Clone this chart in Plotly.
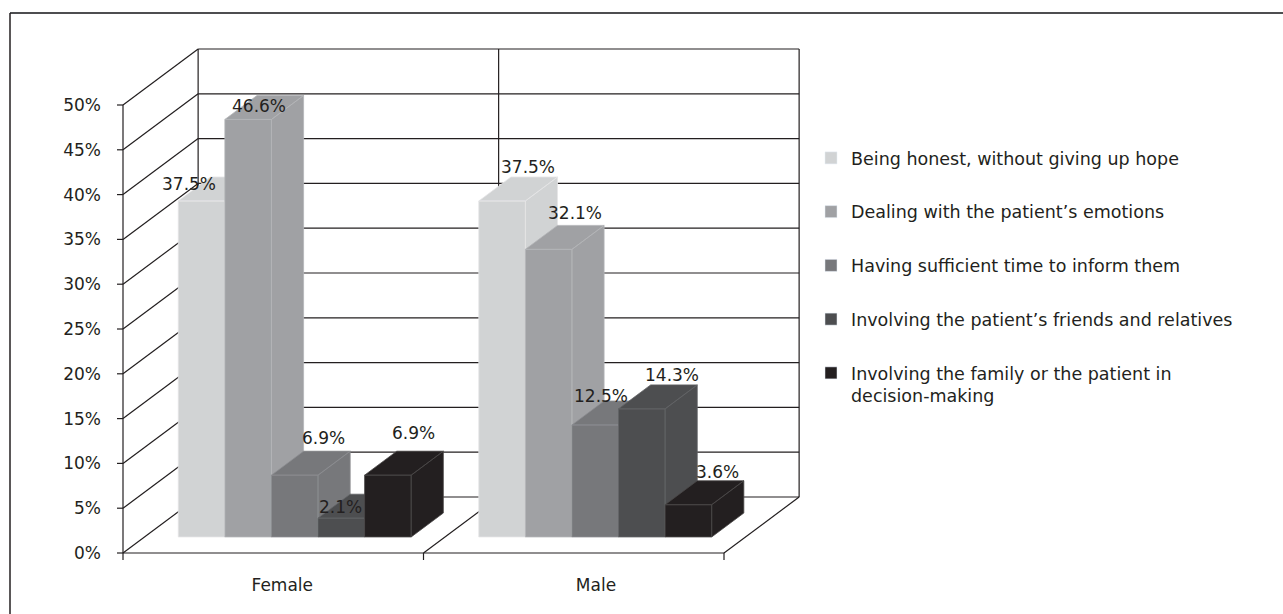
import plotly.graph_objects as go

# ---------------- data ----------------
categories = ["Female", "Male"]
series_names = [
    "Being honest, without giving up hope",
    "Dealing with the patient\u2019s emotions",
    "Having sufficient time to inform them",
    "Involving the patient\u2019s friends and relatives",
    "Involving the family or the patient in<br>decision-making",
]
female_values = [37.5, 46.6, 6.9, 2.1, 6.9]
male_values = [37.5, 32.1, 12.5, 14.3, 3.6]
y_tick_values = [0, 5, 10, 15, 20, 25, 30, 35, 40, 45, 50]
y_tick_labels = [f"{v}%" for v in y_tick_values]

# ---------------- style ----------------
colors = ["#d1d3d4", "#a0a1a4", "#77787b", "#4d4e50", "#231f20"]
edge_colors = ["#e4e5e6", "#b4b5b8", "#8c8d90", "#626366", "#4a4748"]
INK = "#231f20"
FONT = "DejaVu Sans"

W, H = 1283, 614
PX_PER_CAT = 300.5      # pixels per category on the front plane
PX_PER_PCT = 8.96       # pixels per percentage point
FRONT_X_PX = 123        # pixel of the front y axis
ZERO_Y_PX = 553         # pixel of 0 % on the front plane
PLOT_L, PLOT_R, PLOT_T, PLOT_B = 114, 830, 30, 572

DEPTH_X = 0.25          # depth offset (category units)
DEPTH_Y = 6.25          # depth offset (percentage units)
BAR_FRONT, BAR_BACK = 0.286, 0.714
BAR_W = 0.155
GROUP_GAP = (1 - 5 * BAR_W) / 2

x_range = [(PLOT_L - FRONT_X_PX) / PX_PER_CAT, (PLOT_R - FRONT_X_PX) / PX_PER_CAT]
y_range = [(ZERO_Y_PX - PLOT_B) / PX_PER_PCT, (ZERO_Y_PX - PLOT_T) / PX_PER_PCT]

# label nudges (screen px: dx right, dy down) per category / series
label_nudge = [
    [(-39, 17), (-16, 21), (2, -3), (-28, 23), (-1, -8)],
    [(-1, 0), (0, -2), (-21, 5), (3, 0), (2, 1)],
]

fig = go.Figure()

# ---------------- walls / grid (behind bars) ----------------
ny = len(categories)
fx, fy = [], []


def seg(x0, y0, x1, y1):
    fx.extend([x0, x1, None])
    fy.extend([y0, y1, None])


top = y_tick_values[-1]
for v in y_tick_values:
    seg(DEPTH_X, v + DEPTH_Y, ny + DEPTH_X, v + DEPTH_Y)          # back wall grid
    seg(0, v, DEPTH_X, v + DEPTH_Y)                               # side wall grid
    seg(-6 / PX_PER_CAT, v, 0, v)                                 # y ticks
for i in range(ny + 1):
    seg(i + DEPTH_X, DEPTH_Y, i + DEPTH_X, top + DEPTH_Y)         # back verticals
    seg(i, 0, i, -7 / PX_PER_PCT)                                 # x ticks
    if i > 0:
        seg(i, 0, i + DEPTH_X, DEPTH_Y)                           # floor diagonals
seg(0, 0, 0, top)                                                 # front y axis
seg(0, 0, ny, 0)                                                  # front floor edge

fig.add_trace(go.Scatter(x=fx, y=fy, mode="lines", line=dict(color=INK, width=1.2),
                         hoverinfo="skip", showlegend=False))

# ---------------- 3-D bars ----------------
values_by_cat = [female_values, male_values]
annotations = []
for s in range(len(series_names)):
    bx, by = [], []
    for c in range(ny):
        v = values_by_cat[c][s]
        xl = c + GROUP_GAP + s * BAR_W
        xr = xl + BAR_W
        f1x, f1y = BAR_FRONT * DEPTH_X, BAR_FRONT * DEPTH_Y
        f2x, f2y = BAR_BACK * DEPTH_X, BAR_BACK * DEPTH_Y
        # front face
        bx += [xl + f1x, xr + f1x, xr + f1x, xl + f1x, xl + f1x, None]
        by += [f1y, f1y, v + f1y, v + f1y, f1y, None]
        # top face
        bx += [xl + f1x, xr + f1x, xr + f2x, xl + f2x, xl + f1x, None]
        by += [v + f1y, v + f1y, v + f2y, v + f2y, v + f1y, None]
        # right face
        bx += [xr + f1x, xr + f2x, xr + f2x, xr + f1x, xr + f1x, None]
        by += [f1y, f2y, v + f2y, v + f1y, f1y, None]
        ndx, ndy = label_nudge[c][s]
        annotations.append(dict(
            x=(xl + xr) / 2 + f2x, y=v + f2y, xref="x", yref="y",
            text=f"{v:.1f}%", showarrow=False, xanchor="center", yanchor="middle",
            xshift=-5.4 + ndx, yshift=10 - ndy,
            font=dict(family=FONT, size=17, color=INK)))
    fig.add_trace(go.Scatter(x=bx, y=by, mode="lines", fill="toself",
                             fillcolor=colors[s], line=dict(color=edge_colors[s], width=0.8),
                             hoverinfo="skip", showlegend=False))

# legend-only entries
for s, name in enumerate(series_names):
    fig.add_trace(go.Bar(x=[None], y=[None], name=name, marker_color=colors[s],
                         legendgroup=f"g{s}", showlegend=True))

# ---------------- outer frame ----------------
def px_to_paper_x(px):
    return (px - PLOT_L) / (PLOT_R - PLOT_L)


def px_to_paper_y(py):
    return (PLOT_B - py) / (PLOT_B - PLOT_T)


shapes = [
    dict(type="line", xref="paper", yref="paper", x0=px_to_paper_x(10), y0=px_to_paper_y(13),
         x1=px_to_paper_x(1290), y1=px_to_paper_y(13), line=dict(color="#4d4e50", width=2)),
    dict(type="line", xref="paper", yref="paper", x0=px_to_paper_x(10), y0=px_to_paper_y(13),
         x1=px_to_paper_x(10), y1=px_to_paper_y(620), line=dict(color=INK, width=1.5)),
]

fig.update_layout(
    width=W, height=H, autosize=False,
    margin=dict(l=PLOT_L, r=W - PLOT_R, t=PLOT_T, b=H - PLOT_B, pad=0),
    paper_bgcolor="white", plot_bgcolor="white",
    font=dict(family=FONT, size=17, color=INK),
    xaxis=dict(range=x_range, showgrid=False, zeroline=False, showline=False,
               tickvals=[0.53, 1.574], ticktext=categories, ticks="",
               ticklabelstandoff=1, tickfont=dict(size=17), fixedrange=True),
    yaxis=dict(range=y_range, showgrid=False, zeroline=False, showline=False,
               tickvals=y_tick_values, ticktext=y_tick_labels, ticks="",
               ticklabelstandoff=12, tickfont=dict(size=17), fixedrange=True),
    legend=dict(x=px_to_paper_x(811), y=px_to_paper_y(140), xanchor="left", yanchor="top",
                font=dict(size=17.5, color=INK), tracegroupgap=28, valign="top",
                bgcolor="rgba(0,0,0,0)", itemclick=False, itemdoubleclick=False),
    shapes=shapes,
    annotations=annotations,
    showlegend=True,
)

fig.write_html("out.html")
